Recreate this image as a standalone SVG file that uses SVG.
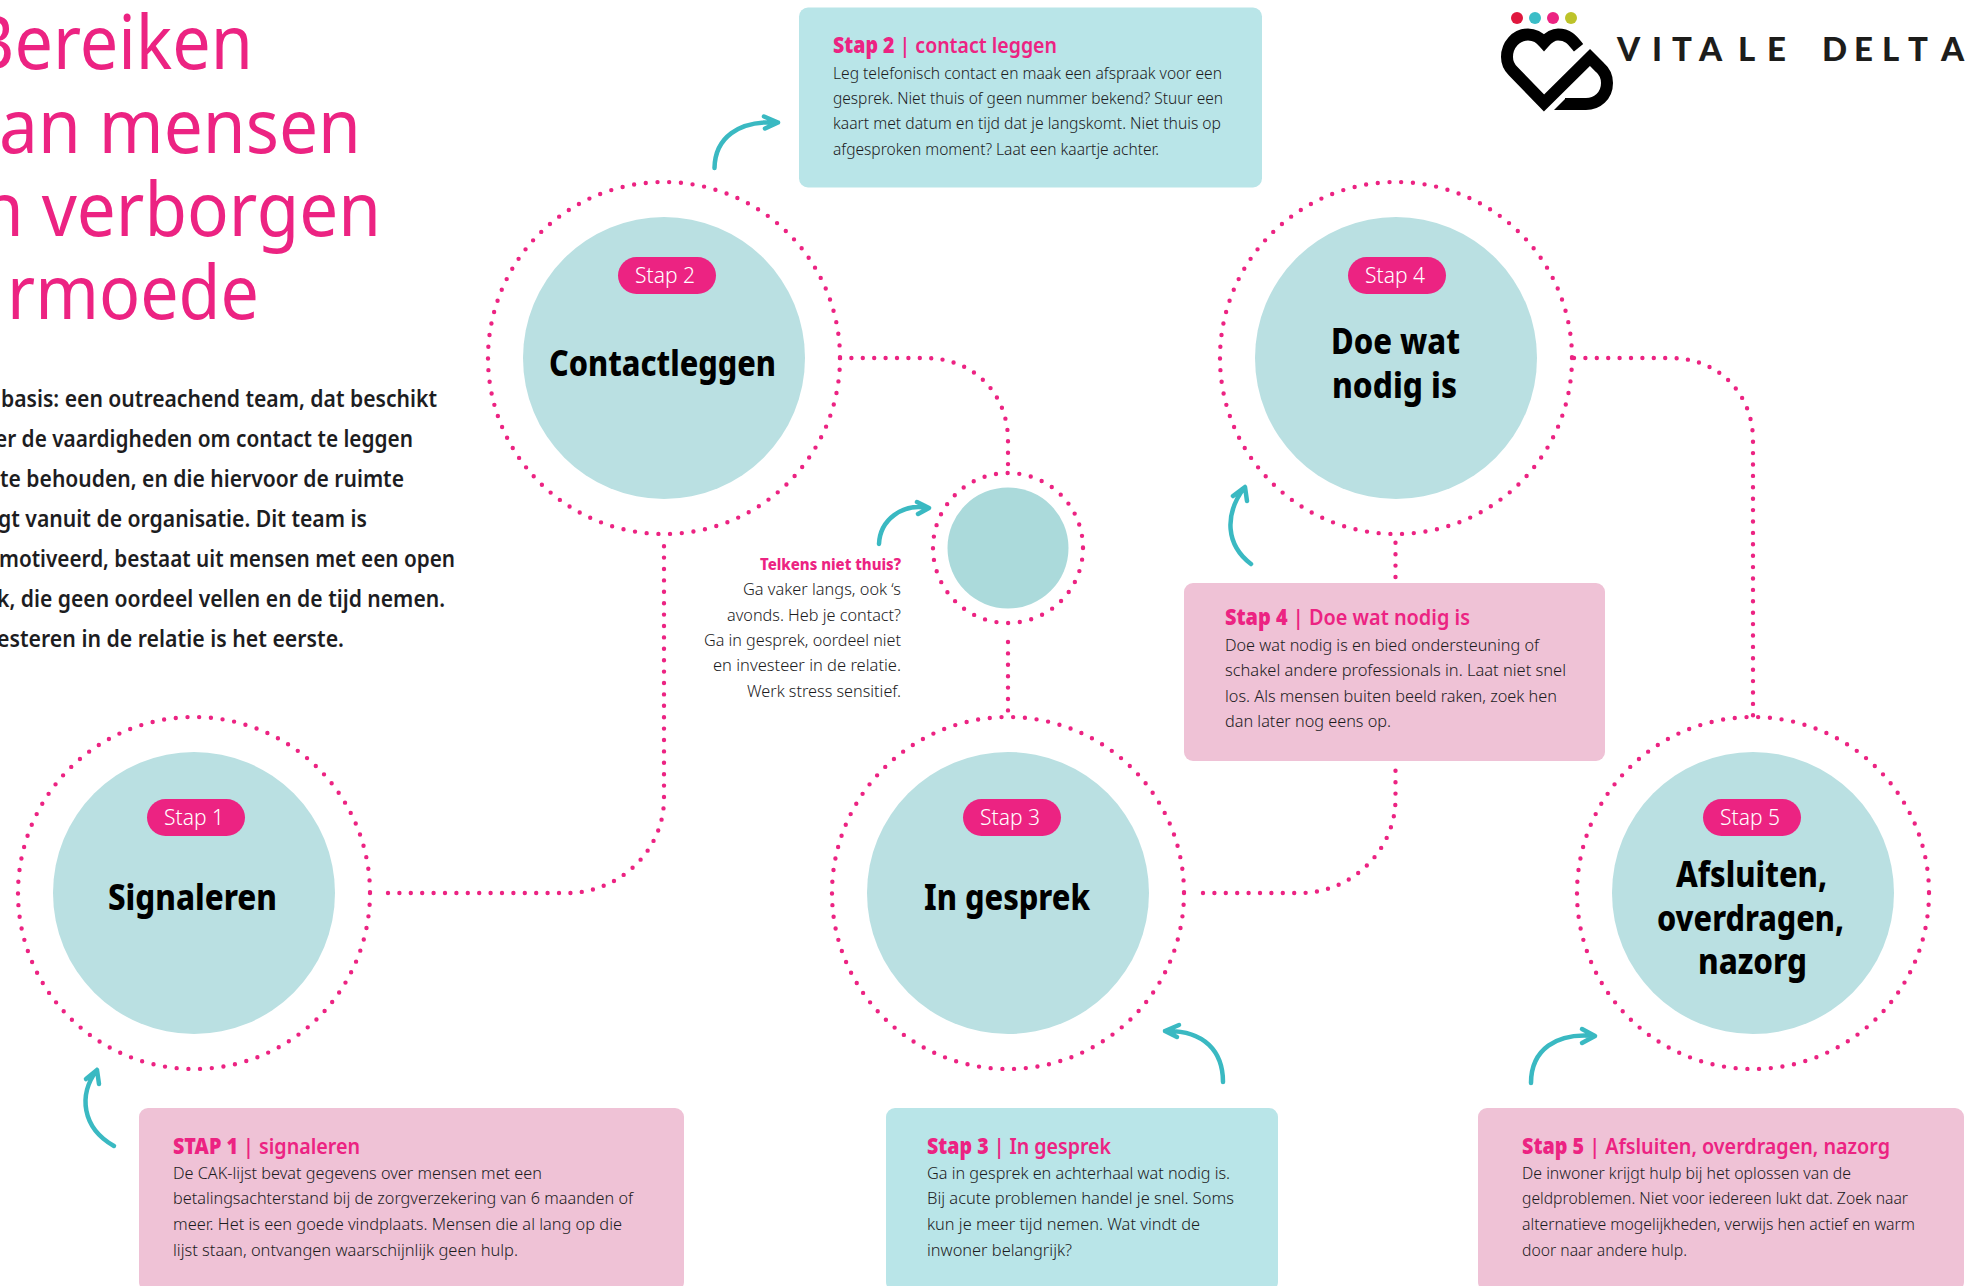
<svg xmlns="http://www.w3.org/2000/svg" width="1966" height="1286" viewBox="0 0 1966 1286">
<style>
text{font-family:"Noto Sans","Open Sans","Liberation Sans",sans-serif}
.big{fill:#ec2382;font-size:74px;font-weight:400}
.intro{fill:#1d1d1f;font-size:23px;font-weight:600}
.ring{fill:none;stroke:#ec2382;stroke-width:4.400;stroke-linecap:round;stroke-dasharray:0 11.750}
.dot{fill:none;stroke:#ec2382;stroke-width:4.400;stroke-linecap:round;stroke-dasharray:0 11.400}
.disc{fill:#bae0e2}
.pill{fill:#ec2382}
.pt{fill:#fff;font-size:21px;font-weight:300;text-anchor:middle}
.nm{fill:#000;font-size:35px;font-weight:800}
.blue{fill:#b9e5e8}
.rose{fill:#efc2d6}
.h{fill:#ec2382;font-size:22px;font-weight:600}
.h tspan{font-weight:900}
.b{fill:#1c1c1e;font-size:16px;font-weight:300}
.arr{fill:none;stroke:#3ab9c2;stroke-width:4.500;stroke-linecap:round;stroke-linejoin:round}
</style>
<g id="title">
<text class="big" x="-30" y="69" textLength="283" lengthAdjust="spacingAndGlyphs">Bereiken</text>
<text class="big" x="-1" y="153" textLength="362" lengthAdjust="spacingAndGlyphs">an mensen</text>
<text class="big" x="-19" y="236" textLength="400" lengthAdjust="spacingAndGlyphs">n verborgen</text>
<text class="big" x="7" y="319" textLength="252" lengthAdjust="spacingAndGlyphs">rmoede</text>
</g>
<g id="intro">
<text class="intro" x="1" y="407" textLength="436" lengthAdjust="spacingAndGlyphs">basis: een outreachend team, dat beschikt</text>
<text class="intro" x="-5" y="447" textLength="418" lengthAdjust="spacingAndGlyphs">er de vaardigheden om contact te leggen</text>
<text class="intro" x="0" y="487" textLength="404" lengthAdjust="spacingAndGlyphs">te behouden, en die hiervoor de ruimte</text>
<text class="intro" x="-2" y="527" textLength="369" lengthAdjust="spacingAndGlyphs">gt vanuit de organisatie. Dit team is</text>
<text class="intro" x="-1" y="567" textLength="456" lengthAdjust="spacingAndGlyphs">motiveerd, bestaat uit mensen met een open</text>
<text class="intro" x="-3" y="607" textLength="448" lengthAdjust="spacingAndGlyphs">k, die geen oordeel vellen en de tijd nemen.</text>
<text class="intro" x="-3" y="647" textLength="347" lengthAdjust="spacingAndGlyphs">esteren in de relatie is het eerste.</text>
</g>
<g id="connectors">
<path class="dot" d="M388,893H567C620,893 664,850 664,799V537"/>
<path class="dot" d="M840,358H925C975,358 1008,395 1008,440V472"/>
<path class="dot" d="M1008,642V718"/>
<path class="dot" d="M1203,893H1300C1352,893 1395.500,850 1395.500,799V768"/>
<path class="dot" d="M1395.500,577V540"/>
<path class="dot" d="M1574,358H1670C1720,358 1753,395 1753,440V718"/>
<path class="arr" d="M714.500,168C715,138 738,120 778,122.500M764,116.500L778,122.500L765,128.500"/>
<path class="arr" d="M114,1146C82,1128 78,1095 97,1070M86,1079L97,1070L99,1084"/>
<path class="arr" d="M879,544C880,520 902,503 928,508M917,502L929,508L918,514"/>
<path class="arr" d="M1223,1082C1223,1052 1205,1030 1165,1031M1179,1025L1165,1031L1177,1037"/>
<path class="arr" d="M1251,564C1226,545 1224,515 1244,488M1233,496L1245,487L1247,501"/>
<path class="arr" d="M1531,1083C1531,1050 1556,1032 1595,1036M1582,1029L1595,1036L1582,1043"/>
</g>
<g id="node-stap1">
<circle class="ring" cx="194" cy="893" r="176"/><circle class="disc" cx="194" cy="893" r="141"/>
<rect class="pill" x="147" y="799" width="98" height="37" rx="18.500"/><text class="pt" x="194" y="825">Stap 1</text>
<text class="nm" x="108" y="910" textLength="169" lengthAdjust="spacingAndGlyphs">Signaleren</text>
</g>
<g id="node-stap2">
<circle class="ring" cx="664" cy="358" r="176"/><circle class="disc" cx="664" cy="358" r="141"/>
<rect class="pill" x="618" y="257" width="98" height="37" rx="18.500"/><text class="pt" x="665" y="283">Stap 2</text>
<text class="nm" x="549" y="376" textLength="227" lengthAdjust="spacingAndGlyphs">Contactleggen</text>
</g>
<g id="node-tussen">
<circle class="ring" cx="1008" cy="548" r="75"/><circle cx="1008" cy="548" r="60.500" fill="#abdadb"/>
</g>
<g id="node-stap3">
<circle class="ring" cx="1008" cy="893" r="176"/><circle class="disc" cx="1008" cy="893" r="141"/>
<rect class="pill" x="963" y="799" width="98" height="37" rx="18.500"/><text class="pt" x="1010" y="825">Stap 3</text>
<text class="nm" x="924" y="910" textLength="166" lengthAdjust="spacingAndGlyphs">In gesprek</text>
</g>
<g id="node-stap4">
<circle class="ring" cx="1396" cy="358" r="176"/><circle class="disc" cx="1396" cy="358" r="141"/>
<rect class="pill" x="1348" y="257" width="98" height="37" rx="18.500"/><text class="pt" x="1395" y="283">Stap 4</text>
<text class="nm" x="1331" y="354" textLength="129" lengthAdjust="spacingAndGlyphs">Doe wat</text>
<text class="nm" x="1332" y="398" textLength="125" lengthAdjust="spacingAndGlyphs">nodig is</text>
</g>
<g id="node-stap5">
<circle class="ring" cx="1753" cy="893" r="176"/><circle class="disc" cx="1753" cy="893" r="141"/>
<rect class="pill" x="1703" y="799" width="98" height="37" rx="18.500"/><text class="pt" x="1750" y="825">Stap 5</text>
<text class="nm" x="1676" y="887" textLength="151" lengthAdjust="spacingAndGlyphs">Afsluiten,</text>
<text class="nm" x="1657" y="931" textLength="187" lengthAdjust="spacingAndGlyphs">overdragen,</text>
<text class="nm" x="1698" y="974" textLength="109" lengthAdjust="spacingAndGlyphs">nazorg</text>
</g>
<g id="box-stap2">
<rect class="blue" x="799" y="7.500" width="463" height="180" rx="9"/>
<text class="h" x="833" y="53" textLength="224" lengthAdjust="spacingAndGlyphs"><tspan>Stap 2</tspan> | contact leggen</text>
<text class="b" x="833" y="79" textLength="389" lengthAdjust="spacingAndGlyphs">Leg telefonisch contact en maak een afspraak voor een</text>
<text class="b" x="833" y="104" textLength="390" lengthAdjust="spacingAndGlyphs">gesprek. Niet thuis of geen nummer bekend? Stuur een</text>
<text class="b" x="833" y="129" textLength="388" lengthAdjust="spacingAndGlyphs">kaart met datum en tijd dat je langskomt. Niet thuis op</text>
<text class="b" x="833" y="155" textLength="326" lengthAdjust="spacingAndGlyphs">afgesproken moment? Laat een kaartje achter.</text>
</g>
<g id="box-stap1">
<rect class="rose" x="139" y="1108" width="545" height="183" rx="9"/>
<text class="h" x="173" y="1154" textLength="187" lengthAdjust="spacingAndGlyphs"><tspan>STAP 1</tspan> | signaleren</text>
<text class="b" x="173" y="1179" textLength="369" lengthAdjust="spacingAndGlyphs">De CAK-lijst bevat gegevens over mensen met een</text>
<text class="b" x="173" y="1204" textLength="460" lengthAdjust="spacingAndGlyphs">betalingsachterstand bij de zorgverzekering van 6 maanden of</text>
<text class="b" x="173" y="1230" textLength="449" lengthAdjust="spacingAndGlyphs">meer. Het is een goede vindplaats. Mensen die al lang op die</text>
<text class="b" x="173" y="1256" textLength="345" lengthAdjust="spacingAndGlyphs">lijst staan, ontvangen waarschijnlijk geen hulp.</text>
</g>
<g id="box-stap3">
<rect class="blue" x="886" y="1108" width="392" height="183" rx="9"/>
<text class="h" x="927" y="1154" textLength="184" lengthAdjust="spacingAndGlyphs"><tspan>Stap 3</tspan> | In gesprek</text>
<text class="b" x="927" y="1179" textLength="303" lengthAdjust="spacingAndGlyphs">Ga in gesprek en achterhaal wat nodig is.</text>
<text class="b" x="927" y="1204" textLength="307" lengthAdjust="spacingAndGlyphs">Bij acute problemen handel je snel. Soms</text>
<text class="b" x="927" y="1230" textLength="273" lengthAdjust="spacingAndGlyphs">kun je meer tijd nemen. Wat vindt de</text>
<text class="b" x="927" y="1256" textLength="145" lengthAdjust="spacingAndGlyphs">inwoner belangrijk?</text>
</g>
<g id="box-stap4">
<rect class="rose" x="1184" y="583" width="421" height="178" rx="9"/>
<text class="h" x="1225" y="625" textLength="245" lengthAdjust="spacingAndGlyphs"><tspan>Stap 4</tspan> | Doe wat nodig is</text>
<text class="b" x="1225" y="651" textLength="314" lengthAdjust="spacingAndGlyphs">Doe wat nodig is en bied ondersteuning of</text>
<text class="b" x="1225" y="676" textLength="341" lengthAdjust="spacingAndGlyphs">schakel andere professionals in. Laat niet snel</text>
<text class="b" x="1225" y="701.500" textLength="332" lengthAdjust="spacingAndGlyphs">los. Als mensen buiten beeld raken, zoek hen</text>
<text class="b" x="1225" y="727" textLength="166" lengthAdjust="spacingAndGlyphs">dan later nog eens op.</text>
</g>
<g id="box-stap5">
<rect class="rose" x="1478" y="1108" width="486" height="183" rx="9"/>
<text class="h" x="1522" y="1154" textLength="368" lengthAdjust="spacingAndGlyphs"><tspan>Stap 5</tspan> | Afsluiten, overdragen, nazorg</text>
<text class="b" x="1522" y="1179" textLength="329" lengthAdjust="spacingAndGlyphs">De inwoner krijgt hulp bij het oplossen van de</text>
<text class="b" x="1522" y="1204" textLength="386" lengthAdjust="spacingAndGlyphs">geldproblemen. Niet voor iedereen lukt dat. Zoek naar</text>
<text class="b" x="1522" y="1230" textLength="393" lengthAdjust="spacingAndGlyphs">alternatieve mogelijkheden, verwijs hen actief en warm</text>
<text class="b" x="1522" y="1256" textLength="165" lengthAdjust="spacingAndGlyphs">door naar andere hulp.</text>
</g>
<g id="note">
<text x="760" y="570" textLength="141" lengthAdjust="spacingAndGlyphs" font-size="16.500" font-weight="800" fill="#ec2382">Telkens niet thuis?</text>
<text class="b" x="743" y="595" textLength="158" lengthAdjust="spacingAndGlyphs">Ga vaker langs, ook ‘s</text>
<text class="b" x="727" y="621" textLength="174" lengthAdjust="spacingAndGlyphs">avonds. Heb je contact?</text>
<text class="b" x="704" y="646" textLength="197" lengthAdjust="spacingAndGlyphs">Ga in gesprek, oordeel niet</text>
<text class="b" x="713" y="671" textLength="188" lengthAdjust="spacingAndGlyphs">en investeer in de relatie.</text>
<text class="b" x="747" y="697" textLength="154" lengthAdjust="spacingAndGlyphs">Werk stress sensitief.</text>
</g>
<g id="logo">
<circle cx="1517" cy="18" r="6" fill="#e0173e"/><circle cx="1535" cy="18" r="6" fill="#3bbdc7"/><circle cx="1553" cy="18" r="6" fill="#ec2382"/><circle cx="1571" cy="18" r="6" fill="#bdc32a"/>
<path d="M1578.600,47.800C1573,41 1569,34.500 1558,34.500C1552,34.500 1548,38 1544,42.500C1540,38 1536,34.500 1528,34.500C1516,34.500 1507,45 1507,57C1507,63 1509,67 1513,71L1544,103L1590,57.500L1600,67.500C1604,71 1607,76 1607,83C1607,96 1597,104 1586,104H1565" fill="none" stroke="#000" stroke-width="12"/>
<polygon points="1566,98 1566,110 1554,110" fill="#000"/>
<text x="1617 1652 1672 1699 1738 1767 1822 1854 1882 1908 1941" y="61" font-size="33" font-weight="900" fill="#1d1d1b" style="font-family:'Lato','Liberation Sans',sans-serif">VITALEDELTA</text>
</g>
</svg>
